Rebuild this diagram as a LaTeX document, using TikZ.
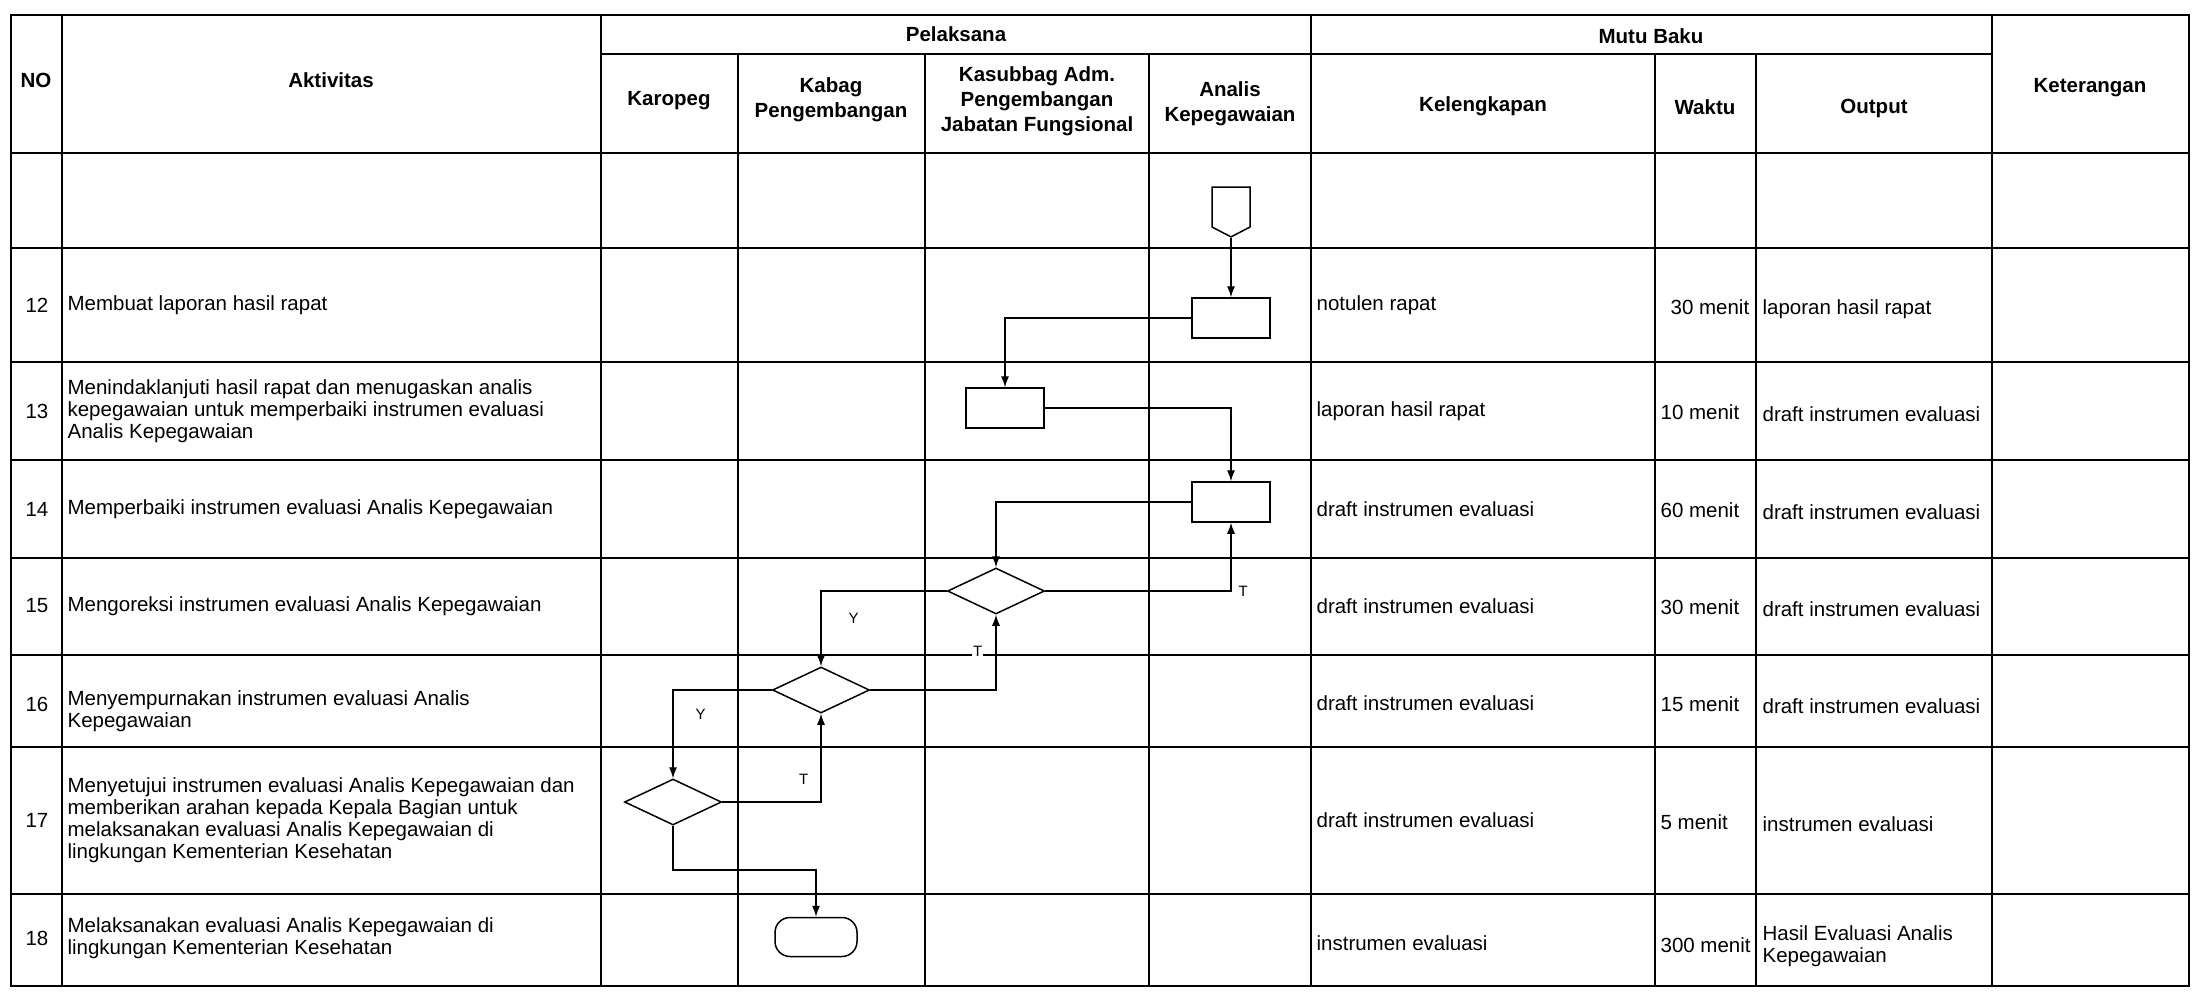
\documentclass[tikz,border=0pt]{standalone}
\usepackage{fontspec}
\setmainfont{Liberation Sans}
\usetikzlibrary{shapes.geometric,shapes.symbols,arrows.meta}

\tikzset{
  tabline/.style={line width=1.6pt},
  txt/.style={font=\fontsize{20.5}{22}\selectfont, inner sep=0pt, align=left},
  hdr/.style={font=\bfseries\fontsize{20.5}{25}\selectfont, inner sep=0pt, align=center},
  proc/.style={draw, line width=1.5pt, minimum width=78pt, minimum height=40pt, inner sep=0pt},
  dec/.style={draw, diamond, line width=1.5pt, minimum width=97pt, minimum height=46pt, inner sep=0pt},
  term/.style={draw, rounded corners=15pt, line width=1.5pt, minimum width=82pt, minimum height=39pt, inner sep=0pt},
  offpage/.style={draw, signal, signal to=south, signal pointer angle=125, line width=1.5pt,
    minimum width=38pt, minimum height=40pt, inner sep=0pt},
  lbl/.style={font=\fontsize{15}{18}\selectfont, inner sep=1pt, fill=white},
}

\begin{document}
\begin{tikzpicture}[x=1pt, y=-1pt, line width=1.2pt, >={Latex[length=11pt,width=8pt]}]
  \useasboundingbox (0,0) rectangle (2203,997);

  % table
  \draw[tabline] (11,15) rectangle (2189,986);
  \draw[tabline] (601,54) -- (1992,54);
  \draw[tabline] (11,153) -- (2189,153) (11,248) -- (2189,248) (11,362) -- (2189,362)
    (11,460) -- (2189,460) (11,558) -- (2189,558) (11,655) -- (2189,655)
    (11,747) -- (2189,747) (11,894) -- (2189,894);
  \draw[tabline] (62,15) -- (62,986) (601,15) -- (601,986) (1311,15) -- (1311,986)
    (1992,15) -- (1992,986);
  \draw[tabline] (738,54) -- (738,986) (925,54) -- (925,986) (1149,54) -- (1149,986)
    (1655,54) -- (1655,986) (1756,54) -- (1756,986);

  % header
  \node[hdr] (hno) at (36,80) {NO};
  \node[hdr] (hakt) at (331,80) {Aktivitas};
  \node[hdr] (hpel) at (956,34) {Pelaksana};
  \node[hdr] (hkar) at (669,101) {Karopeg};
  \node[hdr] (hkab) at (831,100) {Kabag\\Pengembangan};
  \node[hdr] (hkas) at (1037,101) {Kasubbag Adm.\\Pengembangan\\Jabatan Fungsional};
  \node[hdr] (hana) at (1230,104) {Analis\\Kepegawaian};
  \node[hdr] (hmutu) at (1651,36) {Mutu Baku};
  \node[hdr] (hkel) at (1483,106) {Kelengkapan};
  \node[hdr] (hwak) at (1705,107) {Waktu};
  \node[hdr] (hout) at (1874,108) {Output};
  \node[hdr] (hket) at (2090,88) {Keterangan};

  % rows
  \node[txt] (n12) at (37,305) {12};
  \node[txt, anchor=west] (a12) at (67,305) {Membuat laporan hasil rapat};
  \node[txt] (n13) at (37,411) {13};
  \node[txt, anchor=west] (a13) at (67,411) {Menindaklanjuti hasil rapat dan menugaskan analis\\kepegawaian untuk memperbaiki instrumen evaluasi\\Analis Kepegawaian};
  \node[txt] (n14) at (37,509) {14};
  \node[txt, anchor=west] (a14) at (67,509) {Memperbaiki instrumen evaluasi Analis Kepegawaian};
  \node[txt] (n15) at (37,606) {15};
  \node[txt, anchor=west] (a15) at (67,606) {Mengoreksi instrumen evaluasi Analis Kepegawaian};
  \node[txt] (n16) at (37,704) {16};
  \node[txt, anchor=west] (a16) at (67,711) {Menyempurnakan instrumen evaluasi Analis\\Kepegawaian};
  \node[txt] (n17) at (37,820) {17};
  \node[txt, anchor=west] (a17) at (67,820) {Menyetujui instrumen evaluasi Analis Kepegawaian dan\\memberikan arahan kepada Kepala Bagian untuk\\melaksanakan evaluasi Analis Kepegawaian di\\lingkungan Kementerian Kesehatan};
  \node[txt] (n18) at (37,938) {18};
  \node[txt, anchor=west] (a18) at (67,938) {Melaksanakan evaluasi Analis Kepegawaian di\\lingkungan Kementerian Kesehatan};

  \node[txt, anchor=west] (k12) at (1316,305) {notulen rapat};
  \node[txt, anchor=west] (w12) at (1670,307) {30 menit};
  \node[txt, anchor=west] (o12) at (1762,309) {laporan hasil rapat};
  \node[txt, anchor=west] (k13) at (1316,411) {laporan hasil rapat};
  \node[txt, anchor=west] (w13) at (1660,412) {10 menit};
  \node[txt, anchor=west] (o13) at (1762,414) {draft instrumen evaluasi};
  \node[txt, anchor=west] (k14) at (1316,509) {draft instrumen evaluasi};
  \node[txt, anchor=west] (w14) at (1660,510) {60 menit};
  \node[txt, anchor=west] (o14) at (1762,512) {draft instrumen evaluasi};
  \node[txt, anchor=west] (k15) at (1316,606) {draft instrumen evaluasi};
  \node[txt, anchor=west] (w15) at (1660,607) {30 menit};
  \node[txt, anchor=west] (o15) at (1762,609) {draft instrumen evaluasi};
  \node[txt, anchor=west] (k16) at (1316,703) {draft instrumen evaluasi};
  \node[txt, anchor=west] (w16) at (1660,704) {15 menit};
  \node[txt, anchor=west] (o16) at (1762,706) {draft instrumen evaluasi};
  \node[txt, anchor=west] (k17) at (1316,820) {draft instrumen evaluasi};
  \node[txt, anchor=west] (w17) at (1660,822) {5 menit};
  \node[txt, anchor=west] (o17) at (1762,824) {instrumen evaluasi};
  \node[txt, anchor=west] (k18) at (1316,943) {instrumen evaluasi};
  \node[txt, anchor=west] (w18) at (1660,945) {300 menit};
  \node[txt, anchor=west] (o18) at (1762,946) {Hasil Evaluasi Analis\\Kepegawaian};

  % flow
  \node[offpage] (c0) at (1231,207) {};
  \node[proc] (b12) at (1231,318) {};
  \node[proc] (b13) at (1005,408) {};
  \node[proc] (b14) at (1231,502) {};
  \node[dec] (d15) at (996,591) {};
  \node[dec] (d16) at (821,690) {};
  \node[dec] (d17) at (673,802) {};
  \node[term] (e18) at (816,937) {};
  \coordinate (j17) at (673,870);

  \draw[->] (c0) -- (b12);
  \draw[->] (b12.west) -| (b13.north);
  \draw[->] (b13.east) -| (b14.north);
  \draw[->] (b14.west) -| (d15.north);
  \draw[->] (d15.east) -| node[lbl, pos=0.5, right=6pt] {T} (b14.south);
  \draw[->] (d15.west) -| node[lbl, pos=0.68, right=26pt] {Y} (d16.north);
  \draw[->] (d16.east) -| node[lbl, pos=0.76, left=12pt] {T} (d15.south);
  \draw[->] (d16.west) -| node[lbl, pos=0.64, right=21pt] {Y} (d17.north);
  \draw[->] (d17.east) -| node[lbl, pos=0.63, left=11pt] {T} (d16.south);
  \draw[->] (d17.south) -- (j17) -| (e18.north);
\end{tikzpicture}
\end{document}
